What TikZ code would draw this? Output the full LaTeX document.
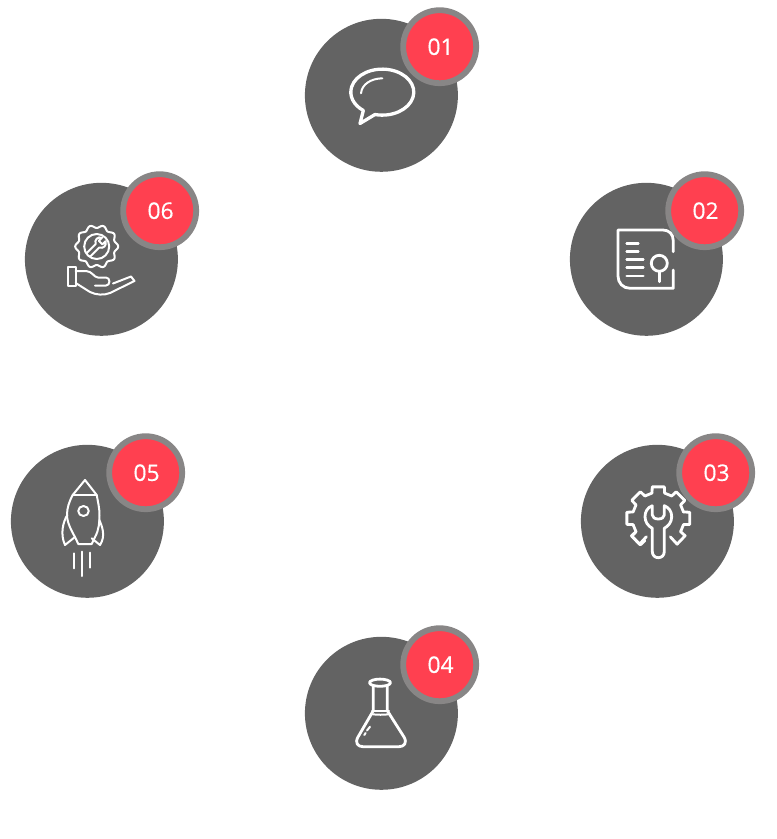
\documentclass[tikz,border=0pt]{standalone}
\usepackage{fontspec}
\setmainfont[FakeBold=0.35]{Open Sans}
\usepackage{tikz}
\usepackage{xcolor}
\definecolor{discgray}{HTML}{636363}
\definecolor{ringgray}{HTML}{888686}
\definecolor{badgered}{HTML}{FF4050}

\begin{document}
\begin{tikzpicture}[
x=0.02cm,y=-0.02cm,
disc/.style={circle,fill=discgray,inner sep=0pt,minimum size=3.06cm},
badge/.style={circle,draw=ringgray,line width=0.116cm,fill=badgered,text=white,inner sep=0pt,minimum size=1.46cm,font=\fontsize{13}{13}\selectfont},
icon/.style={draw=white,line width=0.056cm,line cap=round,line join=round},
thinicon/.style={icon,line width=0.04cm}
]
\useasboundingbox (0,0) rectangle (777,839);

\node[disc] (talk) at (381.4,95.3) {};
\node[disc] (report) at (646.4,259.3) {};
\node[disc] (tools) at (657.4,521.3) {};
\node[disc] (flask) at (381.4,713.3) {};
\node[disc] (rocket) at (87.4,521.3) {};
\node[disc] (service) at (101.4,259.3) {};

\node[badge] (talkno) at (439.7,46.7) {\raisebox{-0.6pt}{\hspace{1pt}01}};
\node[badge] (reportno) at (704.7,210.7) {\raisebox{-0.6pt}{\hspace{1pt}02}};
\node[badge] (toolsno) at (715.7,472.7) {\raisebox{-0.6pt}{\hspace{1pt}03}};
\node[badge] (flaskno) at (439.7,664.7) {\raisebox{-0.6pt}{\hspace{1pt}04}};
\node[badge] (rocketno) at (145.7,472.7) {\raisebox{-0.6pt}{\hspace{1pt}05}};
\node[badge] (serviceno) at (159.7,210.7) {\raisebox{-0.6pt}{\hspace{1pt}06}};

% speech bubble
\draw[icon,line width=0.066cm] (375,114.5) arc[start angle=103.4,end angle=-233,x radius=31.5,y radius=23] -- (360,123.5) -- cycle;
\draw[icon,line width=0.04cm] (361,93.3) .. controls (362,84) and (371,78.6) .. (382.3,78.3);

% sheet with magnifier
\draw[icon] (673.3,251.7) -- (673.3,241) .. controls (673.3,234) and (669,230) .. (663,230) -- (618,230) -- (618,276) .. controls (618,283) and (623,288.3) .. (630,288.3) -- (673.3,288.3) -- (673.3,270);
\draw[icon] (626.7,243.3) -- (638.3,243.3);
\draw[icon] (626.7,251.7) -- (638.3,251.7);
\draw[icon] (626.7,259.3) -- (643.3,259.3);
\draw[icon] (626.7,267.7) -- (643.3,267.7);
\draw[icon] (626.7,276) -- (643.3,276);
\draw[icon] (659.3,263.3) circle (8);
\draw[icon] (659.3,271.5) -- (659.3,281.7);

% gear with wrench
\foreach \a in {0,-45,-90,-135,-180,-225}
  \draw[icon,shift={(658.3,518.3)}] (\a+31:26) -- (\a+14:26) -- (\a+11:32) -- (\a-11:32) -- (\a-14:26);
\draw[icon,shift={(658.3,518.3)}] (31:26) -- (33:32) -- (54:32) -- (57:22);
\draw[icon,shift={(658.3,518.3)}] (149:26) -- (147:32) -- (126:32) -- (123:22);
\draw[icon] (652.3,505.7) -- (652.3,515) .. controls (652.3,517.5) and (655,519) .. (658.3,519) .. controls (661.6,519) and (664.3,517.5) .. (664.3,515) -- (664.3,505.7) .. controls (669,507.5) and (671.7,511.5) .. (671.7,516.7) .. controls (671.7,522) and (668.5,526) .. (664.3,528.3) -- (664.3,551.5) .. controls (664.3,555.5) and (661.5,557.7) .. (658.3,557.7) .. controls (655.1,557.7) and (652.3,555.5) .. (652.3,551.5) -- (652.3,528.3) .. controls (648.1,526) and (645,522) .. (645,516.7) .. controls (645,511.5) and (647.6,507.5) .. (652.3,505.7);

% flask
\draw[icon] (380,682.7) ellipse (10.5 and 3.6);
\draw[icon] (373.3,686) -- (373.3,710.7) -- (358,737) .. controls (354.5,743) and (358,746.7) .. (363,746.7) -- (399,746.7) .. controls (404,746.7) and (407.5,743) .. (404,737) -- (387.3,710.7) -- (387.3,686);
\draw[thinicon] (372,711) -- (389,711);
\draw[thinicon] (371,714) .. controls (376,715) and (385,715) .. (390,714);
\draw[thinicon] (364.3,735) -- (365.6,733);
\draw[thinicon] (367,730.5) -- (370,726.7);

% rocket
\draw[thinicon] (85,480) -- (72.7,495) .. controls (69,502) and (67,508) .. (67,515) .. controls (67,522) and (71,530) .. (75,537) -- (78.3,544) -- (91.7,544) -- (95,537) .. controls (99,530) and (99.5,522) .. (99.5,515) .. controls (99.5,508) and (98,502) .. (96.7,495) -- cycle;
\draw[thinicon] (72.7,495) -- (96.7,495);
\draw[thinicon] (83.5,511) ellipse (5.3 and 5);
\draw[thinicon] (67.3,515) .. controls (63,522) and (60,534) .. (65,545) -- (75,537);
\draw[thinicon] (99.3,520) .. controls (102,526) and (106,536) .. (100,545) -- (91.7,538.3);
\draw[thinicon] (74,553.3) -- (74,568.3);
\draw[thinicon] (81.7,551.7) -- (81.7,576);
\draw[thinicon] (90,552.7) -- (90,567.7);

% open hand holding a gear
\draw[thinicon,shift={(96.7,246.5)}] plot[domain=0:360,samples=121,smooth] ({\x}:{20+1.5*cos(10*\x)}) -- cycle;
\draw[thinicon] (96.7,246.5) circle (12.5);
\draw[thinicon,shift={(96.7,246.5)},rotate=-45] (-2.5,12) -- (-2.5,-1) .. controls (-6.5,-3) and (-6.5,-8) .. (-2.5,-10) -- (-2.5,-5.5) -- (2.5,-5.5) -- (2.5,-10) .. controls (6.5,-8) and (6.5,-3) .. (2.5,-1) -- (2.5,12);
\draw[thinicon] (68.3,267) rectangle (75.7,286);
\draw[thinicon] (75.7,271) -- (86,271) .. controls (92,271) and (94,277.5) .. (98,277.5) -- (106,277.5) .. controls (110.5,277.5) and (110.5,285.5) .. (106,285.5) -- (95,285.5);
\draw[thinicon] (75.7,283) -- (90,292) .. controls (96,295) and (104,295.5) .. (110,293) -- (134.5,281) -- (131,276.5) -- (113,283.5);
\end{tikzpicture}
\end{document}
